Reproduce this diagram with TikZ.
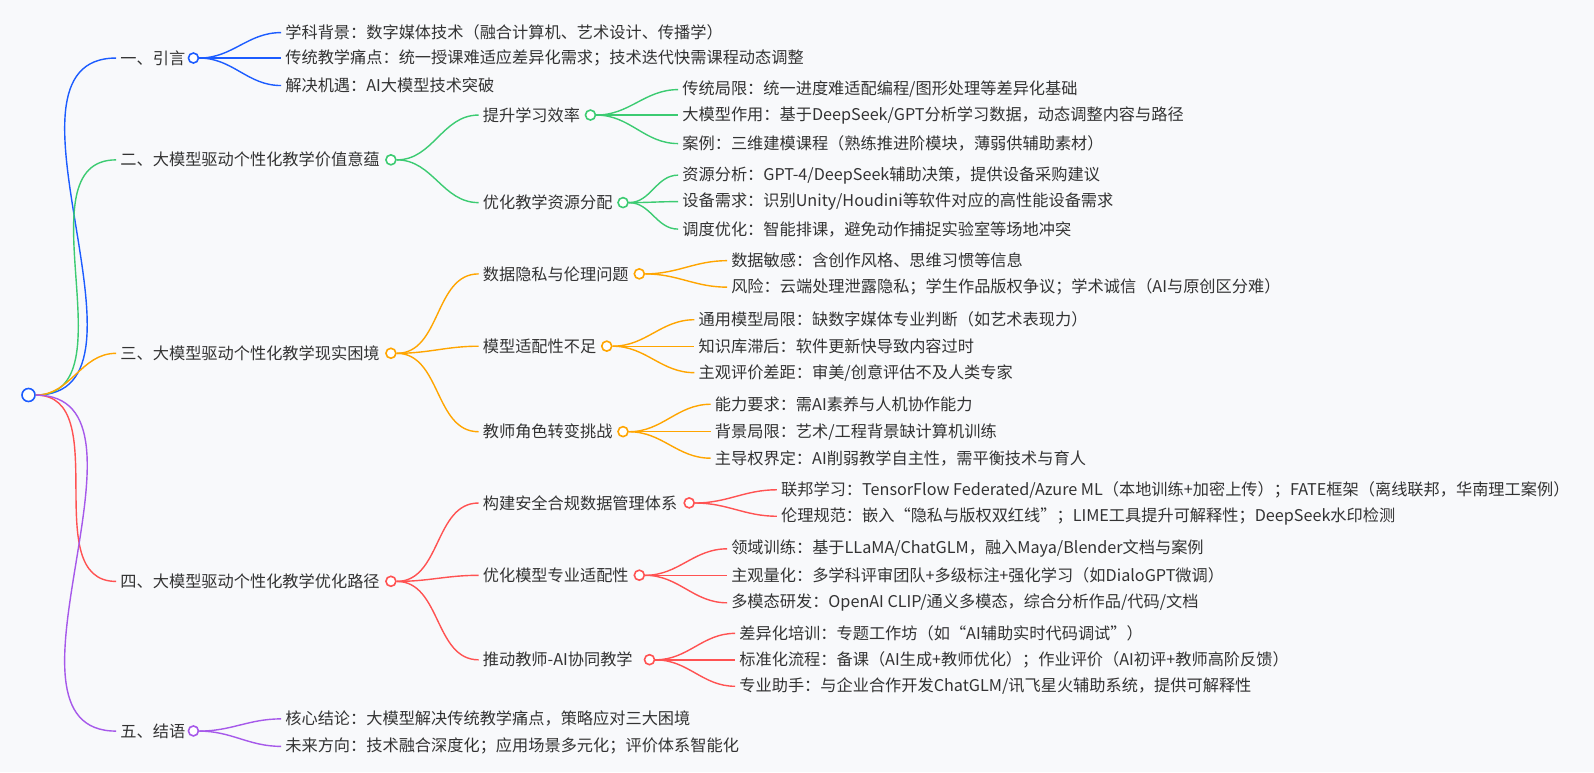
\documentclass[tikz,border=0pt]{standalone}
\usepackage{fontspec}
\setmainfont{Noto Sans CJK SC}
\definecolor{bgc}{HTML}{F8F9FB}
\definecolor{txt}{HTML}{333333}
\definecolor{cblue}{HTML}{1C5CFF}
\definecolor{cgreen}{HTML}{3CCB72}
\definecolor{corange}{HTML}{FFA500}
\definecolor{cred}{HTML}{FF5252}
\definecolor{cpurple}{HTML}{A659EA}
\tikzset{
  item/.style={anchor=west,inner sep=2pt,text=txt,font=\fontsize{8.1}{9}\selectfont},
  dot/.style={circle,draw=#1,fill=white,line width=0.8pt,inner sep=0pt,minimum size=5pt},
  link/.style={draw=#1,line width=0.7pt},
}
\begin{document}
\begin{tikzpicture}[x=0.5pt,y=-0.5pt]
  \fill[bgc] (0,0) rectangle (1594,772);
  \useasboundingbox (0,0) rectangle (1594,772);
  \begin{scope}[scale=1.018]

  % root
  \node[dot=cblue,minimum size=6.5pt] (root) at (28,388) {};

  % level one
  \node[item] (a) at (114,57) {一、引言};
  \node[dot=cblue] (ad) at (190,57) {};
  \node[item] (b) at (114,157) {二、大模型驱动个性化教学价值意蕴};
  \node[dot=cgreen] (bd) at (384,157) {};
  \node[item] (c) at (114,347) {三、大模型驱动个性化教学现实困境};
  \node[dot=corange] (cd) at (384,347) {};
  \node[item] (d) at (114,571) {四、大模型驱动个性化教学优化路径};
  \node[dot=cred] (dd) at (384,571) {};
  \node[item] (e) at (114,718) {五、结语};
  \node[dot=cpurple] (ed) at (190,718) {};

  \draw[link=cblue] (root.east) to[out=0,in=180] (a.west);
  \draw[link=cgreen] (root.east) to[out=0,in=180] (b.west);
  \draw[link=corange] (root.east) to[out=0,in=180] (c.west);
  \draw[link=cred] (root.east) to[out=0,in=180] (d.west);
  \draw[link=cpurple] (root.east) to[out=0,in=180] (e.west);

  % 引言
  \node[item] (a1) at (276,32) {学科背景：数字媒体技术（融合计算机、艺术设计、传播学）};
  \node[item] (a2) at (276,57) {传统教学痛点：统一授课难适应差异化需求；技术迭代快需课程动态调整};
  \node[item] (a3) at (276,84) {解决机遇：AI大模型技术突破};
  \foreach \n in {a1,a2,a3}
    \draw[link=cblue] (ad.east) to[out=0,in=180] (\n.west);

  % 价值意蕴
  \node[item] (b1) at (470,113) {提升学习效率};
  \node[dot=cgreen] (b1d) at (580,113) {};
  \node[item] (b2) at (470,199) {优化教学资源分配};
  \node[dot=cgreen] (b2d) at (612,199) {};
  \foreach \n in {b1,b2}
    \draw[link=cgreen] (bd.east) to[out=0,in=180] (\n.west);
  \node[item] (b11) at (666,88) {传统局限：统一进度难适配编程/图形处理等差异化基础};
  \node[item] (b12) at (666,113) {大模型作用：基于DeepSeek/GPT分析学习数据，动态调整内容与路径};
  \node[item] (b13) at (666,141) {案例：三维建模课程（熟练推进阶模块，薄弱供辅助素材）};
  \foreach \n in {b11,b12,b13}
    \draw[link=cgreen] (b1d.east) to[out=0,in=180] (\n.west);
  \node[item] (b21) at (666,172) {资源分析：GPT-4/DeepSeek辅助决策，提供设备采购建议};
  \node[item] (b22) at (666,198) {设备需求：识别Unity/Houdini等软件对应的高性能设备需求};
  \node[item] (b23) at (666,225) {调度优化：智能排课，避免动作捕捉实验室等场地冲突};
  \foreach \n in {b21,b22,b23}
    \draw[link=cgreen] (b2d.east) to[out=0,in=180] (\n.west);

  % 现实困境
  \node[item] (c1) at (470,269) {数据隐私与伦理问题};
  \node[dot=corange] (c1d) at (628,269) {};
  \node[item] (c2) at (470,340) {模型适配性不足};
  \node[dot=corange] (c2d) at (596,340) {};
  \node[item] (c3) at (470,424) {教师角色转变挑战};
  \node[dot=corange] (c3d) at (612,424) {};
  \foreach \n in {c1,c2,c3}
    \draw[link=corange] (cd.east) to[out=0,in=180] (\n.west);
  \node[item] (c11) at (714,256) {数据敏感：含创作风格、思维习惯等信息};
  \node[item] (c12) at (714,282) {风险：云端处理泄露隐私；学生作品版权争议；学术诚信（AI与原创区分难）};
  \foreach \n in {c11,c12}
    \draw[link=corange] (c1d.east) to[out=0,in=180] (\n.west);
  \node[item] (c21) at (682,314) {通用模型局限：缺数字媒体专业判断（如艺术表现力）};
  \node[item] (c22) at (682,340) {知识库滞后：软件更新快导致内容过时};
  \node[item] (c23) at (682,366) {主观评价差距：审美/创意评估不及人类专家};
  \foreach \n in {c21,c22,c23}
    \draw[link=corange] (c2d.east) to[out=0,in=180] (\n.west);
  \node[item] (c31) at (698,397) {能力要求：需AI素养与人机协作能力};
  \node[item] (c32) at (698,424) {背景局限：艺术/工程背景缺计算机训练};
  \node[item] (c33) at (698,450) {主导权界定：AI削弱教学自主性，需平衡技术与育人};
  \foreach \n in {c31,c32,c33}
    \draw[link=corange] (c3d.east) to[out=0,in=180] (\n.west);

  % 优化路径
  \node[item] (d1) at (470,494) {构建安全合规数据管理体系};
  \node[dot=cred] (d1d) at (677,494) {};
  \node[item] (d2) at (470,565) {优化模型专业适配性};
  \node[dot=cred] (d2d) at (628,565) {};
  \node[item] (d3) at (470,648) {推动教师-AI协同教学};
  \node[dot=cred] (d3d) at (638,648) {};
  \foreach \n in {d1,d2,d3}
    \draw[link=cred] (dd.east) to[out=0,in=180] (\n.west);
  \node[item] (d11) at (763,481) {联邦学习：TensorFlow Federated/Azure ML（本地训练+加密上传）；FATE框架（离线联邦，华南理工案例）};
  \node[item] (d12) at (763,507) {伦理规范：嵌入“隐私与版权双红线”；LIME工具提升可解释性；DeepSeek水印检测};
  \foreach \n in {d11,d12}
    \draw[link=cred] (d1d.east) to[out=0,in=180] (\n.west);
  \node[item] (d21) at (714,539) {领域训练：基于LLaMA/ChatGLM，融入Maya/Blender文档与案例};
  \node[item] (d22) at (714,565) {主观量化：多学科评审团队+多级标注+强化学习（如DialoGPT微调）};
  \node[item] (d23) at (714,592) {多模态研发：OpenAI CLIP/通义多模态，综合分析作品/代码/文档};
  \foreach \n in {d21,d22,d23}
    \draw[link=cred] (d2d.east) to[out=0,in=180] (\n.west);
  \node[item] (d31) at (722,622) {差异化培训：专题工作坊（如“AI辅助实时代码调试”）};
  \node[item] (d32) at (722,648) {标准化流程：备课（AI生成+教师优化）；作业评价（AI初评+教师高阶反馈）};
  \node[item] (d33) at (722,674) {专业助手：与企业合作开发ChatGLM/讯飞星火辅助系统，提供可解释性};
  \foreach \n in {d31,d32,d33}
    \draw[link=cred] (d3d.east) to[out=0,in=180] (\n.west);

  % 结语
  \node[item] (e1) at (276,706) {核心结论：大模型解决传统教学痛点，策略应对三大困境};
  \node[item] (e2) at (276,733) {未来方向：技术融合深度化；应用场景多元化；评价体系智能化};
  \foreach \n in {e1,e2}
    \draw[link=cpurple] (ed.east) to[out=0,in=180] (\n.west);
  \end{scope}
\end{tikzpicture}
\end{document}
